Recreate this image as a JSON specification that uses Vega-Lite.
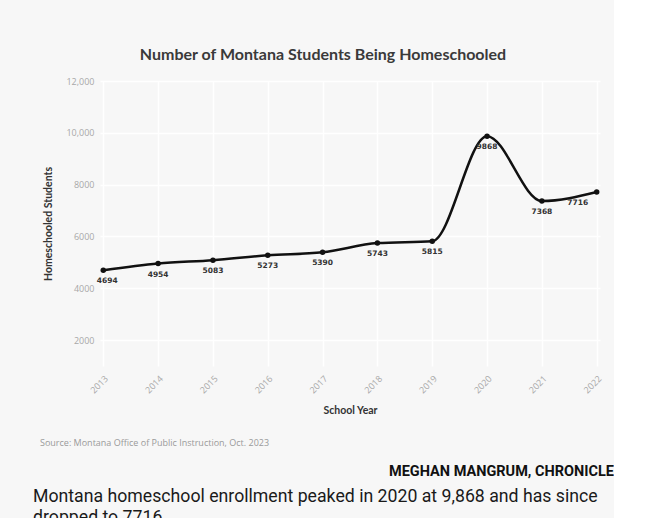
{
  "$schema": "https://vega.github.io/schema/vega-lite/v6.json",
  "background": "#f7f7f7",
  "padding": {"left": 33, "top": 47, "right": 0, "bottom": 0},
  "autosize": {"type": "pad"},
  "spacing": 22,
  "config": {
    "view": {"stroke": null},
    "axis": {"gridColor": "#ffffff", "gridWidth": 1.5, "ticks": false, "domain": false}
  },
  "vconcat": [
    {
      "width": 500,
      "height": 285,
      "title": {
        "text": "Number of Montana Students Being Homeschooled",
        "anchor": "middle",
        "dx": -27,
        "font": "Lato",
        "fontSize": 16,
        "fontWeight": "bold",
        "color": "#3a3a3a",
        "offset": 14
      },
      "data": {
        "values": [
          {"year": "2013", "students": 4694},
          {"year": "2014", "students": 4954},
          {"year": "2015", "students": 5083},
          {"year": "2016", "students": 5273},
          {"year": "2017", "students": 5390},
          {"year": "2018", "students": 5743},
          {"year": "2019", "students": 5815},
          {"year": "2020", "students": 9868},
          {"year": "2021", "students": 7368},
          {"year": "2022", "students": 7716}
        ]
      },
      "encoding": {
        "x": {
          "field": "year",
          "type": "ordinal",
          "scale": {"type": "point", "padding": 0.06},
          "axis": {
            "labelAngle": -45,
            "labelColor": "#a8a8a8",
            "labelFont": "Open Sans",
            "labelFontSize": 9,
            "labelPadding": 8,
            "grid": true,
            "title": "School Year",
            "titleFont": "Lato",
            "titleFontSize": 10.5,
            "titleFontWeight": "bold",
            "titleColor": "#333333",
            "titlePadding": 11
          }
        },
        "y": {
          "field": "students",
          "type": "quantitative",
          "scale": {"domain": [1000, 12000], "nice": false},
          "axis": {
            "values": [2000, 4000, 6000, 8000, 10000, 12000],
            "labelExpr": "datum.value >= 10000 ? format(datum.value, ',') : format(datum.value, 'd')",
            "labelColor": "#a8a8a8",
            "labelFont": "Open Sans",
            "labelFontSize": 9,
            "labelPadding": 6,
            "grid": true,
            "title": "Homeschooled Students",
            "titleFont": "Lato",
            "titleFontSize": 10.5,
            "titleFontWeight": "bold",
            "titleColor": "#333333",
            "titlePadding": 12
          }
        }
      },
      "layer": [
        {"mark": {"type": "line", "interpolate": "monotone", "color": "#111111", "strokeWidth": 2.5}},
        {"mark": {"type": "point", "filled": true, "color": "#111111", "size": 30, "opacity": 1}},
        {
          "mark": {
            "type": "text",
            "dy": 11,
            "dx": {"expr": "datum.year == '2022' ? -19 : (datum.year == '2013' ? 4 : 0)"},
            "font": "DejaVu Sans",
            "fontSize": 7.5,
            "fontWeight": "bold",
            "color": "#333333"
          },
          "encoding": {"text": {"field": "students", "type": "quantitative", "format": "d"}}
        }
      ]
    },
    {
      "spacing": 0,
      "vconcat": [
        {
          "width": 514,
          "height": 1,
          "data": {"values": []},
          "mark": "text",
          "title": {
            "text": "Source: Montana Office of Public Instruction, Oct. 2023",
            "anchor": "start",
            "dx": -60,
            "font": "Open Sans",
            "fontSize": 9,
            "fontWeight": "normal",
            "color": "#9a9a9a",
            "offset": 14
          }
        },
        {
          "width": 514,
          "height": 1,
          "data": {"values": []},
          "mark": "text",
          "title": {
            "text": "MEGHAN MANGRUM, CHRONICLE",
            "anchor": "end",
            "font": "Roboto",
            "fontSize": 14.5,
            "fontWeight": "bold",
            "color": "#111111",
            "offset": 8
          }
        },
        {
          "width": 514,
          "height": 1,
          "data": {"values": []},
          "mark": "text",
          "title": {
            "text": ["Montana homeschool enrollment peaked in 2020 at 9,868 and has since", "dropped to 7716."],
            "anchor": "start",
            "dx": -67,
            "font": "Roboto",
            "fontSize": 17.7,
            "lineHeight": 21,
            "fontWeight": "normal",
            "color": "#1a1a1a",
            "offset": 2
          }
        }
      ]
    }
  ]
}
